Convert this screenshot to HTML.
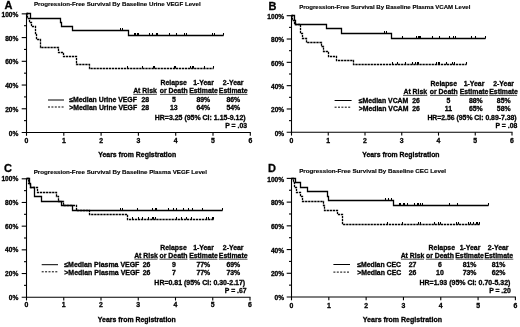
<!DOCTYPE html>
<html>
<head>
<meta charset="utf-8">
<title>Progression-Free Survival</title>
<style>
html,body{margin:0;padding:0;background:#fff;}
body{width:520px;height:327px;overflow:hidden;}
svg{display:block;}
svg text{font-family:"Liberation Sans", sans-serif;font-weight:bold;fill:#000;stroke:#000;stroke-width:0.3px;}
svg line, svg path{stroke:#000;}
</style>
</head>
<body>
<svg width="520" height="327" viewBox="0 0 520 327">
<defs><filter id="soft" x="0" y="0" width="520" height="327" filterUnits="userSpaceOnUse" color-interpolation-filters="sRGB"><feGaussianBlur stdDeviation="0.36"/></filter></defs>
<rect x="0" y="0" width="520" height="327" fill="#ffffff"/>
<g filter="url(#soft)">
<line x1="26.5" y1="13.35" x2="26.5" y2="133" stroke-width="1.1"/>
<line x1="21.7" y1="132.5" x2="250.8" y2="132.5" stroke-width="1.1"/>
<text x="18.4" y="136" font-size="6.6" text-anchor="end">0%</text>
<line x1="24" y1="120.63" x2="26.5" y2="120.63" stroke-width="1.1"/>
<line x1="21.7" y1="108.77" x2="26.5" y2="108.77" stroke-width="1.1"/>
<text x="18.4" y="112" font-size="6.6" text-anchor="end">20%</text>
<line x1="24" y1="96.91" x2="26.5" y2="96.91" stroke-width="1.1"/>
<line x1="21.7" y1="85.04" x2="26.5" y2="85.04" stroke-width="1.1"/>
<text x="18.4" y="88" font-size="6.6" text-anchor="end">40%</text>
<line x1="24" y1="73.17" x2="26.5" y2="73.17" stroke-width="1.1"/>
<line x1="21.7" y1="61.31" x2="26.5" y2="61.31" stroke-width="1.1"/>
<text x="18.4" y="64" font-size="6.6" text-anchor="end">60%</text>
<line x1="24" y1="49.44" x2="26.5" y2="49.44" stroke-width="1.1"/>
<line x1="21.7" y1="37.58" x2="26.5" y2="37.58" stroke-width="1.1"/>
<text x="18.4" y="41" font-size="6.6" text-anchor="end">80%</text>
<line x1="24" y1="25.71" x2="26.5" y2="25.71" stroke-width="1.1"/>
<line x1="21.7" y1="13.85" x2="26.5" y2="13.85" stroke-width="1.1"/>
<text x="18.4" y="17" font-size="6.6" text-anchor="end">100%</text>
<line x1="26.5" y1="132.5" x2="26.5" y2="135.8" stroke-width="1.1"/>
<text x="26.5" y="143" font-size="6.9" text-anchor="middle">0</text>
<line x1="63.8" y1="132.5" x2="63.8" y2="135.8" stroke-width="1.1"/>
<text x="63.8" y="143" font-size="6.9" text-anchor="middle">1</text>
<line x1="101.1" y1="132.5" x2="101.1" y2="135.8" stroke-width="1.1"/>
<text x="101.1" y="143" font-size="6.9" text-anchor="middle">2</text>
<line x1="138.4" y1="132.5" x2="138.4" y2="135.8" stroke-width="1.1"/>
<text x="138.4" y="143" font-size="6.9" text-anchor="middle">3</text>
<line x1="175.7" y1="132.5" x2="175.7" y2="135.8" stroke-width="1.1"/>
<text x="175.7" y="143" font-size="6.9" text-anchor="middle">4</text>
<line x1="213" y1="132.5" x2="213" y2="135.8" stroke-width="1.1"/>
<text x="213" y="143" font-size="6.9" text-anchor="middle">5</text>
<line x1="250.3" y1="132.5" x2="250.3" y2="135.8" stroke-width="1.1"/>
<text x="250.3" y="143" font-size="6.9" text-anchor="middle">6</text>
<text x="4.6" y="9" font-size="11" text-anchor="start">A</text>
<text x="34" y="6" font-size="6.17" text-anchor="start" style="stroke-width:0.15px">Progression-Free Survival By Baseline Urine VEGF Level</text>
<text x="137.2" y="157" font-size="6.92" text-anchor="middle">Years from Registration</text>
<path d="M26.5 13.5 L30.5 13.5 L30.5 18.5 L60.5 18.5 L60.5 22.5 L61.5 22.5 L61.5 26.5 L72.5 26.5 L72.5 30.5 L128.5 30.5 L128.5 35.5 L223.5 35.5" fill="none" stroke-width="1.3"/>
<path d="M26.5 13.5 L27.5 13.5 L27.5 18.5 L29.5 18.5 L29.5 22.5 L31.5 22.5 L31.5 26.5 L35.5 26.5 L35.5 34.5 L36.5 34.5 L36.5 39.5 L40.5 39.5 L40.5 47.5 L58.5 47.5 L58.5 52.5 L63.5 52.5 L63.5 56.5 L76.5 56.5 L76.5 64.5 L89.5 64.5 L89.5 68.5 L213.5 68.5" fill="none" stroke-width="1.3" stroke-dasharray="2.3 0.75"/>
<path d="M120.5 30.5 v-2.4M122.5 30.5 v-2.4M134.5 35.5 v-2.4M135.5 35.5 v-2.4M137.5 35.5 v-2.4M138.5 35.5 v-2.4M149.5 35.5 v-2.4M152.5 35.5 v-2.4M156.5 35.5 v-2.4M157.5 35.5 v-2.4M169.5 35.5 v-2.4M176.5 35.5 v-2.4M184.5 35.5 v-2.4M186.5 35.5 v-2.4M212.5 35.5 v-2.4M214.5 35.5 v-2.4M223.5 35.5 v-2.4M127.5 68.5 v-2.4M142.5 68.5 v-2.4M153.5 68.5 v-2.4M154.5 68.5 v-2.4M174.5 68.5 v-2.4M175.5 68.5 v-2.4M190.5 68.5 v-2.4M192.5 68.5 v-2.4M193.5 68.5 v-2.4M204.5 68.5 v-2.4M213.5 68.5 v-2.4" fill="none" stroke-width="1.05"/>
<line x1="48" y1="100" x2="64" y2="100" stroke-width="1.0"/>
<line x1="48" y1="107" x2="64" y2="107" stroke-width="1.0" stroke-dasharray="2 1.4"/>
<text x="69.3" y="102" font-size="6.88" text-anchor="start">≤Median Urine VEGF</text>
<text x="69.3" y="110" font-size="6.88" text-anchor="start">&gt;Median Urine VEGF</text>
<text x="173.7" y="85" font-size="6.9" text-anchor="middle">Relapse</text>
<text x="203.5" y="85" font-size="6.9" text-anchor="middle">1-Year</text>
<text x="233.2" y="85" font-size="6.9" text-anchor="middle">2-Year</text>
<text x="145" y="93" font-size="6.9" text-anchor="middle">At Risk</text>
<text x="173.7" y="93" font-size="6.9" text-anchor="middle">or Death</text>
<text x="203.5" y="93" font-size="6.9" text-anchor="middle">Estimate</text>
<text x="233.2" y="93" font-size="6.9" text-anchor="middle">Estimate</text>
<line x1="133.3" y1="94.4" x2="156.8" y2="94.4" stroke-width="0.7"/>
<line x1="160" y1="94.4" x2="187.5" y2="94.4" stroke-width="0.7"/>
<line x1="189.5" y1="94.4" x2="217.5" y2="94.4" stroke-width="0.7"/>
<line x1="218.8" y1="94.4" x2="247.5" y2="94.4" stroke-width="0.7"/>
<text x="145.3" y="102" font-size="6.9" text-anchor="middle">28</text>
<text x="173.8" y="102" font-size="6.9" text-anchor="middle">5</text>
<text x="203.3" y="102" font-size="6.9" text-anchor="middle">89%</text>
<text x="233.3" y="102" font-size="6.9" text-anchor="middle">86%</text>
<text x="145.3" y="110" font-size="6.9" text-anchor="middle">28</text>
<text x="173.8" y="110" font-size="6.9" text-anchor="middle">13</text>
<text x="203.3" y="110" font-size="6.9" text-anchor="middle">64%</text>
<text x="233.3" y="110" font-size="6.9" text-anchor="middle">54%</text>
<text x="245.6" y="120" font-size="6.97" text-anchor="end">HR=3.25 (95% CI: 1.15-9.12)</text>
<text x="247" y="128" font-size="6.85" text-anchor="end">P = .03</text>
<line x1="291.5" y1="15.2" x2="291.5" y2="132.8" stroke-width="1.1"/>
<line x1="286.7" y1="132.3" x2="512.5" y2="132.3" stroke-width="1.1"/>
<text x="284.2" y="136" font-size="6.6" text-anchor="end">0%</text>
<line x1="289" y1="120.64" x2="291.5" y2="120.64" stroke-width="1.1"/>
<line x1="286.7" y1="108.98" x2="291.5" y2="108.98" stroke-width="1.1"/>
<text x="284.2" y="112" font-size="6.6" text-anchor="end">20%</text>
<line x1="289" y1="97.32" x2="291.5" y2="97.32" stroke-width="1.1"/>
<line x1="286.7" y1="85.66" x2="291.5" y2="85.66" stroke-width="1.1"/>
<text x="284.2" y="89" font-size="6.6" text-anchor="end">40%</text>
<line x1="289" y1="74" x2="291.5" y2="74" stroke-width="1.1"/>
<line x1="286.7" y1="62.34" x2="291.5" y2="62.34" stroke-width="1.1"/>
<text x="284.2" y="66" font-size="6.6" text-anchor="end">60%</text>
<line x1="289" y1="50.68" x2="291.5" y2="50.68" stroke-width="1.1"/>
<line x1="286.7" y1="39.02" x2="291.5" y2="39.02" stroke-width="1.1"/>
<text x="284.2" y="42" font-size="6.6" text-anchor="end">80%</text>
<line x1="289" y1="27.36" x2="291.5" y2="27.36" stroke-width="1.1"/>
<line x1="286.7" y1="15.7" x2="291.5" y2="15.7" stroke-width="1.1"/>
<text x="284.2" y="19" font-size="6.6" text-anchor="end">100%</text>
<line x1="291.5" y1="132.3" x2="291.5" y2="135.6" stroke-width="1.1"/>
<text x="291.5" y="143" font-size="6.9" text-anchor="middle">0</text>
<line x1="328.25" y1="132.3" x2="328.25" y2="135.6" stroke-width="1.1"/>
<text x="328.25" y="143" font-size="6.9" text-anchor="middle">1</text>
<line x1="365" y1="132.3" x2="365" y2="135.6" stroke-width="1.1"/>
<text x="365" y="143" font-size="6.9" text-anchor="middle">2</text>
<line x1="401.75" y1="132.3" x2="401.75" y2="135.6" stroke-width="1.1"/>
<text x="401.75" y="143" font-size="6.9" text-anchor="middle">3</text>
<line x1="438.5" y1="132.3" x2="438.5" y2="135.6" stroke-width="1.1"/>
<text x="438.5" y="143" font-size="6.9" text-anchor="middle">4</text>
<line x1="475.25" y1="132.3" x2="475.25" y2="135.6" stroke-width="1.1"/>
<text x="475.25" y="143" font-size="6.9" text-anchor="middle">5</text>
<line x1="512" y1="132.3" x2="512" y2="135.6" stroke-width="1.1"/>
<text x="512" y="143" font-size="6.9" text-anchor="middle">6</text>
<text x="268.6" y="10" font-size="11" text-anchor="start">B</text>
<text x="299.2" y="9" font-size="6.07" text-anchor="start" style="stroke-width:0.15px">Progression-Free Survival By Baseline Plasma VCAM Level</text>
<text x="400.9" y="157" font-size="6.85" text-anchor="middle">Years from Registration</text>
<path d="M291.5 15.5 L294.5 15.5 L294.5 20.5 L295.5 20.5 L295.5 24.5 L326.5 24.5 L326.5 28.5 L341.5 28.5 L341.5 33.5 L391.5 33.5 L391.5 38.5 L485.5 38.5" fill="none" stroke-width="1.3"/>
<path d="M291.5 15.5 L292.5 15.5 L292.5 20.5 L294.5 20.5 L294.5 24.5 L300.5 24.5 L300.5 33.5 L302.5 33.5 L302.5 38.5 L306.5 38.5 L306.5 42.5 L321.5 42.5 L321.5 46.5 L323.5 46.5 L323.5 51.5 L328.5 51.5 L328.5 56.5 L336.5 56.5 L336.5 60.5 L353.5 60.5 L353.5 64.5 L466.5 64.5" fill="none" stroke-width="1.3" stroke-dasharray="2.3 0.75"/>
<path d="M384.5 33.5 v-2.4M386.5 33.5 v-2.4M402.5 38.5 v-2.4M416.5 38.5 v-2.4M418.5 38.5 v-2.4M419.5 38.5 v-2.4M420.5 38.5 v-2.4M432.5 38.5 v-2.4M439.5 38.5 v-2.4M449.5 38.5 v-2.4M453.5 38.5 v-2.4M455.5 38.5 v-2.4M471.5 38.5 v-2.4M475.5 38.5 v-2.4M485.5 38.5 v-2.4M392.5 64.5 v-2.4M397.5 64.5 v-2.4M405.5 64.5 v-2.4M412.5 64.5 v-2.4M415.5 64.5 v-2.4M417.5 64.5 v-2.4M418.5 64.5 v-2.4M436.5 64.5 v-2.4M438.5 64.5 v-2.4M439.5 64.5 v-2.4M446.5 64.5 v-2.4M452.5 64.5 v-2.4M454.5 64.5 v-2.4M466.5 64.5 v-2.4" fill="none" stroke-width="1.05"/>
<line x1="334.6" y1="100.5" x2="351.6" y2="100.5" stroke-width="1.0"/>
<line x1="334.6" y1="107.2" x2="351.6" y2="107.2" stroke-width="1.0" stroke-dasharray="2 1.4"/>
<text x="358.7" y="103" font-size="6.88" text-anchor="start">≤Median VCAM</text>
<text x="358.7" y="111" font-size="6.88" text-anchor="start">&gt;Median VCAM</text>
<text x="443.8" y="86" font-size="6.9" text-anchor="middle">Relapse</text>
<text x="474" y="86" font-size="6.9" text-anchor="middle">1-Year</text>
<text x="503.6" y="86" font-size="6.9" text-anchor="middle">2-Year</text>
<text x="415.3" y="94" font-size="6.9" text-anchor="middle">At Risk</text>
<text x="443.8" y="94" font-size="6.9" text-anchor="middle">or Death</text>
<text x="474" y="94" font-size="6.9" text-anchor="middle">Estimate</text>
<text x="503.6" y="94" font-size="6.9" text-anchor="middle">Estimate</text>
<line x1="403" y1="95.4" x2="427.3" y2="95.4" stroke-width="0.7"/>
<line x1="430" y1="95.4" x2="457.5" y2="95.4" stroke-width="0.7"/>
<line x1="459.8" y1="95.4" x2="488.3" y2="95.4" stroke-width="0.7"/>
<line x1="489.2" y1="95.4" x2="517.1" y2="95.4" stroke-width="0.7"/>
<text x="416" y="103" font-size="6.9" text-anchor="middle">26</text>
<text x="448.5" y="103" font-size="6.9" text-anchor="middle">5</text>
<text x="475.8" y="103" font-size="6.9" text-anchor="middle">88%</text>
<text x="503.7" y="103" font-size="6.9" text-anchor="middle">85%</text>
<text x="416" y="111" font-size="6.9" text-anchor="middle">26</text>
<text x="448.5" y="111" font-size="6.9" text-anchor="middle">11</text>
<text x="475.8" y="111" font-size="6.9" text-anchor="middle">65%</text>
<text x="503.7" y="111" font-size="6.9" text-anchor="middle">58%</text>
<text x="516.6" y="120" font-size="6.85" text-anchor="end">HR=2.56 (95% CI: 0.89-7.38)</text>
<text x="517.3" y="128" font-size="6.85" text-anchor="end">P = .08</text>
<line x1="26.5" y1="178.3" x2="26.5" y2="297.7" stroke-width="1.1"/>
<line x1="21.7" y1="297.2" x2="250.5" y2="297.2" stroke-width="1.1"/>
<text x="18.3" y="300" font-size="6.6" text-anchor="end">0%</text>
<line x1="24" y1="285.36" x2="26.5" y2="285.36" stroke-width="1.1"/>
<line x1="21.7" y1="273.52" x2="26.5" y2="273.52" stroke-width="1.1"/>
<text x="18.3" y="276" font-size="6.6" text-anchor="end">20%</text>
<line x1="24" y1="261.68" x2="26.5" y2="261.68" stroke-width="1.1"/>
<line x1="21.7" y1="249.84" x2="26.5" y2="249.84" stroke-width="1.1"/>
<text x="18.3" y="252" font-size="6.6" text-anchor="end">40%</text>
<line x1="24" y1="238" x2="26.5" y2="238" stroke-width="1.1"/>
<line x1="21.7" y1="226.16" x2="26.5" y2="226.16" stroke-width="1.1"/>
<text x="18.3" y="229" font-size="6.6" text-anchor="end">60%</text>
<line x1="24" y1="214.32" x2="26.5" y2="214.32" stroke-width="1.1"/>
<line x1="21.7" y1="202.48" x2="26.5" y2="202.48" stroke-width="1.1"/>
<text x="18.3" y="205" font-size="6.6" text-anchor="end">80%</text>
<line x1="24" y1="190.64" x2="26.5" y2="190.64" stroke-width="1.1"/>
<line x1="21.7" y1="178.8" x2="26.5" y2="178.8" stroke-width="1.1"/>
<text x="18.3" y="181" font-size="6.6" text-anchor="end">100%</text>
<line x1="26.5" y1="297.2" x2="26.5" y2="300.5" stroke-width="1.1"/>
<text x="26.5" y="307" font-size="6.9" text-anchor="middle">0</text>
<line x1="63.75" y1="297.2" x2="63.75" y2="300.5" stroke-width="1.1"/>
<text x="63.75" y="307" font-size="6.9" text-anchor="middle">1</text>
<line x1="101" y1="297.2" x2="101" y2="300.5" stroke-width="1.1"/>
<text x="101" y="307" font-size="6.9" text-anchor="middle">2</text>
<line x1="138.25" y1="297.2" x2="138.25" y2="300.5" stroke-width="1.1"/>
<text x="138.25" y="307" font-size="6.9" text-anchor="middle">3</text>
<line x1="175.5" y1="297.2" x2="175.5" y2="300.5" stroke-width="1.1"/>
<text x="175.5" y="307" font-size="6.9" text-anchor="middle">4</text>
<line x1="212.75" y1="297.2" x2="212.75" y2="300.5" stroke-width="1.1"/>
<text x="212.75" y="307" font-size="6.9" text-anchor="middle">5</text>
<line x1="250" y1="297.2" x2="250" y2="300.5" stroke-width="1.1"/>
<text x="250" y="307" font-size="6.9" text-anchor="middle">6</text>
<text x="4" y="172" font-size="11" text-anchor="start">C</text>
<text x="33.7" y="174" font-size="6.2" text-anchor="start" style="stroke-width:0.15px">Progression-Free Survival By Baseline Plasma VEGF Level</text>
<text x="136.8" y="322" font-size="6.92" text-anchor="middle">Years from Registration</text>
<path d="M26.5 178.5 L29.5 178.5 L29.5 183.5 L30.5 183.5 L30.5 187.5 L34.5 187.5 L34.5 196.5 L41.5 196.5 L41.5 201.5 L61.5 201.5 L61.5 205.5 L72.5 205.5 L72.5 210.5 L222.5 210.5" fill="none" stroke-width="1.3"/>
<path d="M26.5 178.5 L28.5 178.5 L28.5 183.5 L30.5 183.5 L30.5 187.5 L37.5 187.5 L37.5 192.5 L56.5 192.5 L56.5 196.5 L58.5 196.5 L58.5 201.5 L63.5 201.5 L63.5 205.5 L76.5 205.5 L76.5 210.5 L89.5 210.5 L89.5 214.5 L127.5 214.5 L127.5 219.5 L213.5 219.5" fill="none" stroke-width="1.3" stroke-dasharray="2.3 0.75"/>
<path d="M120.5 210.5 v-2.4M122.5 210.5 v-2.4M137.5 210.5 v-2.4M152.5 210.5 v-2.4M155.5 210.5 v-2.4M156.5 210.5 v-2.4M168.5 210.5 v-2.4M173.5 210.5 v-2.4M176.5 210.5 v-2.4M183.5 210.5 v-2.4M188.5 210.5 v-2.4M192.5 210.5 v-2.4M192.5 210.5 v-2.4M202.5 210.5 v-2.4M222.5 210.5 v-2.4M132.5 219.5 v-2.4M138.5 219.5 v-2.4M142.5 219.5 v-2.4M148.5 219.5 v-2.4M152.5 219.5 v-2.4M153.5 219.5 v-2.4M155.5 219.5 v-2.4M176.5 219.5 v-2.4M181.5 219.5 v-2.4M186.5 219.5 v-2.4M191.5 219.5 v-2.4M206.5 219.5 v-2.4M208.5 219.5 v-2.4M212.5 219.5 v-2.4M213.5 219.5 v-2.4" fill="none" stroke-width="1.05"/>
<line x1="41.7" y1="264.7" x2="58" y2="264.7" stroke-width="1.0"/>
<line x1="41.7" y1="271.8" x2="58" y2="271.8" stroke-width="1.0" stroke-dasharray="2 1.4"/>
<text x="64.3" y="267" font-size="6.97" text-anchor="start">≤Median Plasma VEGF</text>
<text x="64.3" y="275" font-size="6.97" text-anchor="start">&gt;Median Plasma VEGF</text>
<text x="173.5" y="250" font-size="6.9" text-anchor="middle">Relapse</text>
<text x="203.5" y="250" font-size="6.9" text-anchor="middle">1-Year</text>
<text x="233.2" y="250" font-size="6.9" text-anchor="middle">2-Year</text>
<text x="146" y="258" font-size="6.9" text-anchor="middle">At Risk</text>
<text x="173.5" y="258" font-size="6.9" text-anchor="middle">or Death</text>
<text x="203.5" y="258" font-size="6.9" text-anchor="middle">Estimate</text>
<text x="233.2" y="258" font-size="6.9" text-anchor="middle">Estimate</text>
<line x1="134.5" y1="259.2" x2="157.5" y2="259.2" stroke-width="0.7"/>
<line x1="159.5" y1="259.2" x2="187.5" y2="259.2" stroke-width="0.7"/>
<line x1="189.5" y1="259.2" x2="217.5" y2="259.2" stroke-width="0.7"/>
<line x1="218.8" y1="259.2" x2="247.5" y2="259.2" stroke-width="0.7"/>
<text x="146.5" y="267" font-size="6.9" text-anchor="middle">26</text>
<text x="173.8" y="267" font-size="6.9" text-anchor="middle">9</text>
<text x="203.3" y="267" font-size="6.9" text-anchor="middle">77%</text>
<text x="233.3" y="267" font-size="6.9" text-anchor="middle">69%</text>
<text x="146.5" y="275" font-size="6.9" text-anchor="middle">26</text>
<text x="173.8" y="275" font-size="6.9" text-anchor="middle">7</text>
<text x="203.3" y="275" font-size="6.9" text-anchor="middle">77%</text>
<text x="233.3" y="275" font-size="6.9" text-anchor="middle">73%</text>
<text x="245.2" y="285" font-size="6.97" text-anchor="end">HR=0.81 (95% CI: 0.30-2.17)</text>
<text x="246.6" y="293" font-size="6.85" text-anchor="end">P = .67</text>
<line x1="291.5" y1="177.9" x2="291.5" y2="297.5" stroke-width="1.1"/>
<line x1="286.7" y1="297" x2="515.9" y2="297" stroke-width="1.1"/>
<text x="284.1" y="300" font-size="6.6" text-anchor="end">0%</text>
<line x1="289" y1="285.14" x2="291.5" y2="285.14" stroke-width="1.1"/>
<line x1="286.7" y1="273.28" x2="291.5" y2="273.28" stroke-width="1.1"/>
<text x="284.1" y="276" font-size="6.6" text-anchor="end">20%</text>
<line x1="289" y1="261.42" x2="291.5" y2="261.42" stroke-width="1.1"/>
<line x1="286.7" y1="249.56" x2="291.5" y2="249.56" stroke-width="1.1"/>
<text x="284.1" y="253" font-size="6.6" text-anchor="end">40%</text>
<line x1="289" y1="237.7" x2="291.5" y2="237.7" stroke-width="1.1"/>
<line x1="286.7" y1="225.84" x2="291.5" y2="225.84" stroke-width="1.1"/>
<text x="284.1" y="229" font-size="6.6" text-anchor="end">60%</text>
<line x1="289" y1="213.98" x2="291.5" y2="213.98" stroke-width="1.1"/>
<line x1="286.7" y1="202.12" x2="291.5" y2="202.12" stroke-width="1.1"/>
<text x="284.1" y="205" font-size="6.6" text-anchor="end">80%</text>
<line x1="289" y1="190.26" x2="291.5" y2="190.26" stroke-width="1.1"/>
<line x1="286.7" y1="178.4" x2="291.5" y2="178.4" stroke-width="1.1"/>
<text x="284.1" y="182" font-size="6.6" text-anchor="end">100%</text>
<line x1="291.5" y1="297" x2="291.5" y2="300.3" stroke-width="1.1"/>
<text x="291.5" y="308" font-size="6.9" text-anchor="middle">0</text>
<line x1="328.82" y1="297" x2="328.82" y2="300.3" stroke-width="1.1"/>
<text x="328.82" y="308" font-size="6.9" text-anchor="middle">1</text>
<line x1="366.13" y1="297" x2="366.13" y2="300.3" stroke-width="1.1"/>
<text x="366.13" y="308" font-size="6.9" text-anchor="middle">2</text>
<line x1="403.45" y1="297" x2="403.45" y2="300.3" stroke-width="1.1"/>
<text x="403.45" y="308" font-size="6.9" text-anchor="middle">3</text>
<line x1="440.77" y1="297" x2="440.77" y2="300.3" stroke-width="1.1"/>
<text x="440.77" y="308" font-size="6.9" text-anchor="middle">4</text>
<line x1="478.08" y1="297" x2="478.08" y2="300.3" stroke-width="1.1"/>
<text x="478.08" y="308" font-size="6.9" text-anchor="middle">5</text>
<line x1="515.4" y1="297" x2="515.4" y2="300.3" stroke-width="1.1"/>
<text x="515.4" y="308" font-size="6.9" text-anchor="middle">6</text>
<text x="268" y="172" font-size="11" text-anchor="start">D</text>
<text x="299.2" y="173" font-size="6.22" text-anchor="start" style="stroke-width:0.15px">Progression-Free Survival By Baseline CEC Level</text>
<text x="402.4" y="322" font-size="7.02" text-anchor="middle">Years from Registration</text>
<path d="M291.5 178.5 L295.5 178.5 L295.5 182.5 L300.5 182.5 L300.5 187.5 L307.5 187.5 L307.5 191.5 L327.5 191.5 L327.5 196.5 L328.5 196.5 L328.5 200.5 L393.5 200.5 L393.5 205.5 L488.5 205.5" fill="none" stroke-width="1.3"/>
<path d="M291.5 178.5 L293.5 178.5 L293.5 182.5 L294.5 182.5 L294.5 187.5 L296.5 187.5 L296.5 192.5 L300.5 192.5 L300.5 196.5 L302.5 196.5 L302.5 201.5 L323.5 201.5 L323.5 205.5 L324.5 205.5 L324.5 210.5 L337.5 210.5 L337.5 214.5 L342.5 214.5 L342.5 224.5 L479.5 224.5" fill="none" stroke-width="1.3" stroke-dasharray="2.3 0.75"/>
<path d="M385.5 200.5 v-2.4M388.5 200.5 v-2.4M391.5 200.5 v-2.4M399.5 205.5 v-2.4M400.5 205.5 v-2.4M403.5 205.5 v-2.4M404.5 205.5 v-2.4M407.5 205.5 v-2.4M414.5 205.5 v-2.4M417.5 205.5 v-2.4M418.5 205.5 v-2.4M420.5 205.5 v-2.4M422.5 205.5 v-2.4M449.5 205.5 v-2.4M457.5 205.5 v-2.4M488.5 205.5 v-2.4M387.5 224.5 v-2.4M402.5 224.5 v-2.4M418.5 224.5 v-2.4M420.5 224.5 v-2.4M434.5 224.5 v-2.4M438.5 224.5 v-2.4M440.5 224.5 v-2.4M456.5 224.5 v-2.4M458.5 224.5 v-2.4M468.5 224.5 v-2.4M470.5 224.5 v-2.4M473.5 224.5 v-2.4M476.5 224.5 v-2.4M477.5 224.5 v-2.4M479.5 224.5 v-2.4" fill="none" stroke-width="1.05"/>
<line x1="333.4" y1="264.5" x2="350" y2="264.5" stroke-width="1.0"/>
<line x1="333.4" y1="272.1" x2="350" y2="272.1" stroke-width="1.0" stroke-dasharray="2 1.4"/>
<text x="357.2" y="267" font-size="6.88" text-anchor="start">≤Median CEC</text>
<text x="357.2" y="275" font-size="6.88" text-anchor="start">&gt;Median CEC</text>
<text x="441.8" y="250" font-size="6.9" text-anchor="middle">Relapse</text>
<text x="470" y="250" font-size="6.9" text-anchor="middle">1-Year</text>
<text x="498.2" y="250" font-size="6.9" text-anchor="middle">2-Year</text>
<text x="412.5" y="258" font-size="6.9" text-anchor="middle">At Risk</text>
<text x="439.9" y="258" font-size="6.9" text-anchor="middle">or Death</text>
<text x="469.6" y="258" font-size="6.9" text-anchor="middle">Estimate</text>
<text x="498.8" y="258" font-size="6.9" text-anchor="middle">Estimate</text>
<line x1="401" y1="259.2" x2="424" y2="259.2" stroke-width="0.7"/>
<line x1="425.8" y1="259.2" x2="453.7" y2="259.2" stroke-width="0.7"/>
<line x1="455.6" y1="259.2" x2="483.5" y2="259.2" stroke-width="0.7"/>
<line x1="484.4" y1="259.2" x2="513.3" y2="259.2" stroke-width="0.7"/>
<text x="412.5" y="267" font-size="6.9" text-anchor="middle">27</text>
<text x="439.9" y="267" font-size="6.9" text-anchor="middle">6</text>
<text x="469.6" y="267" font-size="6.9" text-anchor="middle">81%</text>
<text x="498.6" y="267" font-size="6.9" text-anchor="middle">81%</text>
<text x="412.5" y="275" font-size="6.9" text-anchor="middle">26</text>
<text x="439.9" y="275" font-size="6.9" text-anchor="middle">10</text>
<text x="469.6" y="275" font-size="6.9" text-anchor="middle">73%</text>
<text x="498.6" y="275" font-size="6.9" text-anchor="middle">62%</text>
<text x="510.4" y="285" font-size="6.97" text-anchor="end">HR=1.93 (95% CI: 0.70-5.32)</text>
<text x="510.9" y="293" font-size="6.85" text-anchor="end">P = .20</text>
</g>
</svg>
</body>
</html>
